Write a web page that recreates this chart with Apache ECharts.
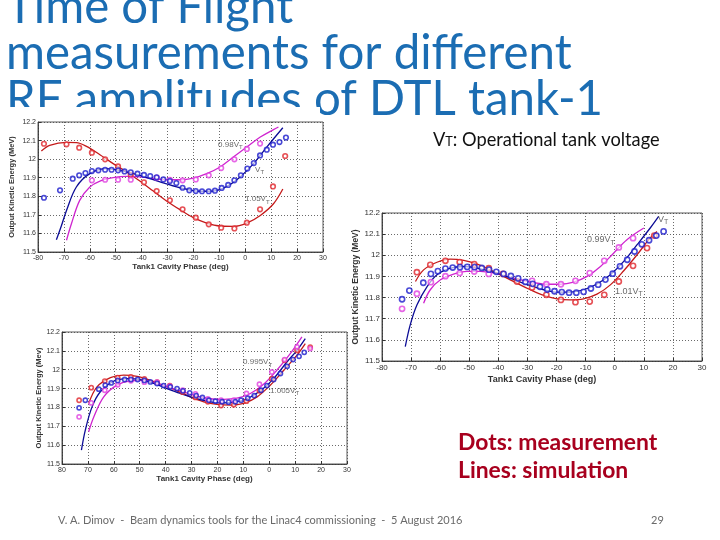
<!DOCTYPE html>
<html><head><meta charset="utf-8">
<script src="https://cdn.jsdelivr.net/npm/echarts@6/dist/echarts.min.js"></script>
<style>html,body{margin:0;padding:0;background:#fff}#c{width:720px;height:540px}</style>
</head><body><div id="c"></div>
<script>
// ---------- text ----------
const titleLines = ['Time of Flight', 'measurements for different', 'RF amplitudes of DTL tank-1'];
const noteText = 'Operational tank voltage';
const legendLines = ['Dots: measurement', 'Lines: simulation'];
const footerText = 'V. A. Dimov  -  Beam dynamics tools for the Linac4 commissioning  -  5 August 2016';
const pageNumber = '29';
const xName = 'Tank1 Cavity Phase (deg)';
const yNames = ['Output Kinetic Energy (MeV)', 'Output Kinetic Energy (MeV)', 'Output Kinetic Energy (Mev)'];

// ---------- chart 1 (top-left): V_T, 0.98 V_T, 1.05 V_T ----------
const c1MeasVT = [[-77.7,11.792],[-71.5,11.832],[-66.6,11.895],[-64.1,11.913],[-61.7,11.925],[-59.2,11.936],[-56.7,11.940],[-54.1,11.943],[-51.6,11.943],[-49.1,11.940],[-46.6,11.934],[-44.2,11.929],[-41.6,11.922],[-39.1,11.915],[-36.7,11.909],[-34.2,11.902],[-31.6,11.891],[-29.1,11.882],[-26.6,11.871],[-24.2,11.846],[-21.6,11.832],[-19.1,11.828],[-16.7,11.827],[-14.1,11.827],[-11.7,11.830],[-9.1,11.845],[-6.6,11.861],[-4.2,11.886],[-1.7,11.913],[0.8,11.949],[3.3,11.979],[5.7,12.020],[8.3,12.051],[10.7,12.078],[13.2,12.092],[15.7,12.116]];
const c1MeasHigh = [[-77.7,12.083],[-69.0,12.080],[-64.1,12.062],[-59.2,12.035],[-54.1,11.999],[-49.1,11.961],[-44.2,11.916],[-39.1,11.875],[-34.2,11.828],[-29.1,11.778],[-24.2,11.730],[-19.1,11.685],[-14.1,11.649],[-9.3,11.631],[-4.2,11.627],[0.6,11.658],[5.7,11.730],[10.7,11.853],[15.4,12.017]];
const c1MeasLow = [[-59.2,11.886],[-54.1,11.889],[-49.1,11.889],[-44.2,11.889],[-34.2,11.900],[-29.1,11.889],[-24.2,11.886],[-19.1,11.891],[-14.1,11.913],[-9.3,11.952],[-4.2,11.999],[0.6,12.055],[5.7,12.084]];
const c1SimVT = [[-72.9,11.566],[-71,11.64],[-69,11.724],[-65.2,11.85],[-60,11.922],[-53.6,11.949],[-48.4,11.94],[-40.7,11.913],[-32.9,11.877],[-25.2,11.846],[-17.5,11.827],[-12.3,11.828],[-7.1,11.853],[-2,11.904],[3.2,11.976],[8.3,12.065],[14.5,12.169]];
const c1SimHigh = [[-78.7,12.044],[-75.5,12.074],[-69,12.09],[-65.2,12.089],[-61.3,12.069],[-56.1,12.024],[-51,11.976],[-45.8,11.931],[-40.7,11.882],[-35.5,11.828],[-30.4,11.775],[-25.2,11.728],[-20,11.685],[-14.9,11.656],[-9.7,11.640],[-4.6,11.638],[0.6,11.656],[5.8,11.697],[10.9,11.760],[14.5,11.839]];
const c1SimLow = [[-69,11.563],[-67.1,11.652],[-63.9,11.778],[-60,11.85],[-56.1,11.882],[-51,11.9],[-45.8,11.907],[-40.7,11.904],[-35.5,11.895],[-30.4,11.889],[-25.2,11.889],[-20,11.898],[-14.9,11.922],[-9.7,11.958],[-4.6,12.011],[0.6,12.065],[5.8,12.119],[10.9,12.159],[12.8,12.173]];
const c1Labels = ['0.98V', 'V', '1.05V'];

// ---------- chart 2 (right): V_T, 0.99 V_T, 1.01 V_T ----------
const c2MeasVT = [[-73.1,11.792],[-70.6,11.833],[-65.8,11.87],[-63.2,11.912],[-60.8,11.925],[-58.2,11.937],[-55.7,11.942],[-53.2,11.944],[-50.7,11.945],[-48.2,11.944],[-45.7,11.940],[-43.2,11.932],[-40.7,11.922],[-38.2,11.912],[-35.7,11.902],[-33.2,11.891],[-30.7,11.874],[-28.2,11.865],[-25.7,11.851],[-23.2,11.838],[-20.7,11.830],[-18.2,11.826],[-15.7,11.823],[-13.2,11.823],[-10.7,11.827],[-8.2,11.843],[-5.7,11.861],[-3.2,11.885],[-0.7,11.913],[1.8,11.948],[4.3,11.979],[6.8,12.018],[9.3,12.052],[11.8,12.071],[14.3,12.093],[16.8,12.113]];
const c2MeasHigh = [[-68,11.92],[-63.4,11.955],[-58.2,11.974],[-53.3,11.968],[-48.3,11.958],[-43.3,11.939],[-38.4,11.912],[-33.6,11.876],[-28.4,11.848],[-23.5,11.813],[-18.5,11.789],[-13.5,11.778],[-8.6,11.781],[-3.6,11.813],[1.4,11.876],[6.3,11.950],[11.1,12.034],[13.6,12.093]];
const c2MeasLow = [[-73.1,11.747],[-68,11.818],[-63.2,11.873],[-58.2,11.901],[-53.3,11.916],[-48.3,11.923],[-43.3,11.912],[-28.4,11.879],[-23.5,11.863],[-18.5,11.863],[-13.5,11.879],[-8.6,11.916],[-3.6,11.974],[1.4,12.037],[6.3,12.081]];
const c2SimVT = [[-72,11.568],[-70.3,11.671],[-68,11.765],[-64.5,11.852],[-61.1,11.908],[-56.5,11.939],[-51.9,11.947],[-47.3,11.939],[-42.8,11.924],[-38.2,11.905],[-33.6,11.879],[-29,11.856],[-24.4,11.837],[-19.8,11.826],[-15.3,11.826],[-10.7,11.837],[-6.1,11.864],[-1.5,11.908],[3.1,11.971],[7.7,12.05],[12.2,12.129],[15.1,12.184]];
const c2SimHigh = [[-68.5,11.876],[-65.7,11.931],[-61.1,11.967],[-56.5,11.982],[-51.9,11.976],[-47.3,11.958],[-42.8,11.931],[-38.2,11.9],[-33.6,11.868],[-29,11.837],[-24.4,11.81],[-19.8,11.794],[-15.3,11.789],[-10.7,11.794],[-6.1,11.816],[-1.5,11.86],[3.1,11.927],[7.7,12.003],[12.2,12.082],[14.5,12.113]];
const c2SimLow = [[-65.7,11.773],[-63.4,11.837],[-59.9,11.884],[-55.4,11.911],[-50.8,11.924],[-46.2,11.924],[-41.6,11.916],[-37,11.9],[-32.4,11.884],[-27.9,11.871],[-23.3,11.863],[-18.7,11.863],[-14.1,11.873],[-9.5,11.9],[-4.9,11.947],[-0.4,12.01],[4.2,12.074],[10,12.129]];
const c2Labels = ['0.99V', 'V', '1.01V'];

// ---------- chart 3 (bottom-left): V_T, 0.995 V_T, 1.005 V_T ----------
const c3MeasVT = [[-73.4,11.798],[-71,11.838],[-65.8,11.897],[-63.3,11.918],[-61,11.93],[-58.5,11.943],[-55.8,11.948],[-53.4,11.948],[-50.8,11.948],[-48.2,11.943],[-45.9,11.935],[-43.3,11.927],[-40.8,11.916],[-38.2,11.909],[-35.6,11.9],[-33.3,11.888],[-30.7,11.877],[-28.2,11.863],[-25.8,11.853],[-23.3,11.838],[-20.8,11.833],[-18.2,11.830],[-15.7,11.828],[-13.1,11.830],[-10.9,11.838],[-8.3,11.849],[-5.8,11.863],[-3.2,11.891],[-0.9,11.916],[1.7,11.948],[4.3,11.98],[6.9,12.018],[9.2,12.054],[11.5,12.071],[13.5,12.092]];
const c3MeasHigh = [[-73.4,11.838],[-68.7,11.905],[-63.5,11.94],[-58.5,11.958],[-53.4,11.962],[-48.2,11.951],[-43.3,11.934],[-38.4,11.916],[-33.4,11.881],[-28.5,11.853],[-23.7,11.830],[-18.6,11.810],[-13.7,11.814],[-8.8,11.833],[-3.8,11.888],[1.0,11.953],[5.9,12.05],[10.7,12.103],[15.8,12.12]];
const c3MeasLow = [[-73.4,11.75],[-68.7,11.824],[-63.5,11.891],[-58.5,11.92],[-53.4,11.941],[-48.2,11.934],[-43.3,11.934],[-38.4,11.913],[-33.4,11.891],[-28.5,11.872],[-23.7,11.845],[-18.6,11.838],[-13.7,11.838],[-8.8,11.874],[-3.8,11.923],[1,11.988],[5.9,12.054],[10.7,12.121],[15.8,12.112]];
const c3SimVT = [[-72.5,11.574],[-71,11.68],[-68.4,11.803],[-65.2,11.883],[-60.1,11.939],[-54.9,11.953],[-49.7,11.948],[-44.6,11.927],[-39.5,11.9],[-34.3,11.874],[-29.2,11.851],[-24,11.833],[-18.9,11.824],[-13.7,11.828],[-8.6,11.846],[-3.4,11.888],[1.7,11.953],[6.8,12.041],[10.7,12.103],[13.9,12.165]];
const c3SimHigh = [[-69.7,11.821],[-66.5,11.909],[-61.3,11.958],[-56.2,11.971],[-51,11.965],[-45.9,11.944],[-40.8,11.916],[-35.6,11.888],[-30.5,11.856],[-25.3,11.830],[-20.2,11.816],[-15,11.812],[-9.9,11.821],[-4.7,11.856],[0.4,11.918],[5.6,11.997],[10.7,12.077],[13.9,12.138]];
const c3SimLow = [[-69.7,11.671],[-67.7,11.75],[-63.9,11.856],[-58.8,11.918],[-53.6,11.941],[-48.5,11.944],[-43.3,11.927],[-38.2,11.904],[-33.1,11.883],[-27.9,11.86],[-22.8,11.846],[-17.6,11.843],[-12.5,11.849],[-7.3,11.874],[-2.2,11.923],[2.9,11.997],[8.1,12.085],[12.6,12.174]];
const c3Labels = ['0.995V', '1.005V'];

// ---------- build ----------
const COL = {
  dotBlue: '#1c1ccc', lineBlue: '#0c0c96',
  dotRed: '#e0262c', lineRed: '#c41a1a',
  dotMag: '#e040e0', lineMag: '#cf25cf'
};
const chart = echarts.init(document.getElementById('c'), null, {renderer: 'canvas'});

function fit(text, weight, family, target) {
  const ctx = document.createElement('canvas').getContext('2d');
  ctx.font = weight + ' 100px ' + family;
  return 100 * target / ctx.measureText(text).width;
}
const titleFont = 'Lato';
const titleSize = fit(titleLines[2], 'normal', titleFont, 597);
const noteSize = fit('VT: ' + noteText, 'normal', 'Lato', 229);
const legendSize = fit(legendLines[0], 'bold', 'Lato', 199);

const grids = [
  {left: 38, top: 122, width: 285, height: 130},
  {left: 382, top: 213, width: 320, height: 148},
  {left: 62, top: 332, width: 285, height: 132}
];
const tickFont = [7, 8, 7];
const nameFont = [8, 9, 8];
const xGap = [11, 14, 10];
const yGap = [22, 21, 19];

const xAxis = grids.map((g, i) => ({
  gridIndex: i, type: 'value', min: -80, max: 30, interval: 10,
  axisLine: {show: true, onZero: false, lineStyle: {color: '#333', width: 0.8}},
  axisTick: {show: true, inside: true, length: 3, lineStyle: {color: '#333'}},
  axisLabel: {fontSize: tickFont[i], color: '#333', margin: 3, fontFamily: 'Liberation Sans',
    formatter: i === 2 ? (v => String(Math.abs(v))) : (v => String(v))},
  splitLine: {show: true, lineStyle: {type: [1, 2], color: '#444', width: 0.8}},
  name: xName, nameLocation: 'middle', nameGap: xGap[i],
  nameTextStyle: {fontSize: nameFont[i], color: '#333', fontWeight: 'bold', fontFamily: 'Liberation Sans'}
}));
const yAxis = grids.map((g, i) => ({
  gridIndex: i, type: 'value', min: 11.5, max: 12.2, interval: 0.1,
  axisLine: {show: true, onZero: false, lineStyle: {color: '#333', width: 0.8}},
  axisTick: {show: true, inside: true, length: 3, lineStyle: {color: '#333'}},
  axisLabel: {fontSize: tickFont[i], color: '#333', margin: 2, fontFamily: 'Liberation Sans',
    formatter: v => String(Math.round(v * 10) / 10)},
  splitLine: {show: true, lineStyle: {type: [1, 2], color: '#444', width: 0.8}},
  name: yNames[i], nameLocation: 'middle', nameGap: yGap[i], nameRotate: 90,
  nameTextStyle: {fontSize: nameFont[i] - 0.5, color: '#333', fontWeight: 'bold', fontFamily: 'Liberation Sans'}
}));

const series = [];
function sim(idx, data, color) {
  series.push({type: 'line', xAxisIndex: idx, yAxisIndex: idx, data: data, smooth: 0.35,
    showSymbol: false, silent: true, z: 2, lineStyle: {color: color, width: 1.3}});
}
function meas(idx, data, color, size) {
  series.push({type: 'scatter', xAxisIndex: idx, yAxisIndex: idx, data: data, symbol: 'circle',
    symbolSize: size, silent: true, z: 3,
    itemStyle: {color: 'rgba(255,255,255,0.8)', borderColor: color, borderWidth: 1.6}});
}
function note(idx, text, x, y, fs) {
  series.push({type: 'scatter', xAxisIndex: idx, yAxisIndex: idx, data: [[x, y]], symbolSize: 0, silent: true, z: 4,
    label: {show: true, position: 'right', distance: 0, formatter: text + '{s|T}',
      fontSize: fs, color: '#444', fontFamily: 'Liberation Sans',
      rich: {s: {fontSize: fs - 2, color: '#444', padding: [fs * 0.7, 0, 0, 0], fontFamily: 'Liberation Sans'}}}});
}

sim(0, c1SimHigh, COL.lineRed); sim(0, c1SimLow, COL.lineMag); sim(0, c1SimVT, COL.lineBlue);
meas(0, c1MeasHigh, COL.dotRed, 4.6); meas(0, c1MeasLow, COL.dotMag, 4.6); meas(0, c1MeasVT, COL.dotBlue, 4.6);
note(0, c1Labels[0], -10.5, 12.076, 8); note(0, c1Labels[1], 3.8, 11.945, 8); note(0, c1Labels[2], -0.1, 11.785, 8);

sim(1, c2SimHigh, COL.lineRed); sim(1, c2SimLow, COL.lineMag); sim(1, c2SimVT, COL.lineBlue);
meas(1, c2MeasHigh, COL.dotRed, 5.2); meas(1, c2MeasLow, COL.dotMag, 5.2); meas(1, c2MeasVT, COL.dotBlue, 5.2);
note(1, c2Labels[0], -9.5, 12.075, 9); note(1, c2Labels[1], 14.9, 12.17, 9); note(1, c2Labels[2], 0.1, 11.83, 9);

sim(2, c3SimHigh, COL.lineRed); sim(2, c3SimLow, COL.lineMag); sim(2, c3SimVT, COL.lineBlue);
meas(2, c3MeasHigh, COL.dotRed, 4.2); meas(2, c3MeasLow, COL.dotMag, 4.2); meas(2, c3MeasVT, COL.dotBlue, 4.2);
note(2, c3Labels[0], -10.1, 12.04, 8); note(2, c3Labels[1], 0.3, 11.89, 8);

const graphic = [];
titleLines.forEach((t, i) => {
  graphic.push({type: 'text', z: -5, x: 6, y: [31, 77, 123][i], silent: true,
    style: {text: t, fill: '#1b6db3', font: titleSize.toFixed(1) + 'px ' + titleFont, verticalAlign: 'bottom'}});
});
// first chart picture covers the lower part of the title
graphic.push({type: 'rect', z: -4, silent: true, shape: {x: 0, y: 107, width: 320, height: 165}, style: {fill: '#fff'}});
graphic.push({type: 'text', z: 5, x: 433, y: 140, silent: true,
  style: {rich: {a: {fontSize: noteSize, fontFamily: 'Lato', fill: '#111'}, s: {fontSize: noteSize * 0.7, fontFamily: 'Lato', fill: '#111', padding: [4, 0, 0, 0]}},
    text: '{a|V}{s|T}{a|: ' + noteText + '}', verticalAlign: 'middle'}});
legendLines.forEach((t, i) => {
  graphic.push({type: 'text', z: 5, x: 458, y: [443, 471][i], silent: true,
    style: {text: t, fill: '#a8001e', font: 'bold ' + legendSize.toFixed(1) + 'px Lato', verticalAlign: 'middle'}});
});
graphic.push({type: 'text', z: 5, x: 58, y: 520, silent: true,
  style: {text: footerText, fill: '#6a6a6a', font: '11px Lato', verticalAlign: 'middle'}});
graphic.push({type: 'text', z: 5, x: 651, y: 520, silent: true,
  style: {text: pageNumber, fill: '#6a6a6a', font: '11px Lato', verticalAlign: 'middle'}});

chart.setOption({
  animation: false,
  backgroundColor: '#fff',
  grid: grids.map(g => Object.assign({show: true, borderColor: '#333', borderWidth: 0.8, backgroundColor: 'transparent', containLabel: false}, g)),
  xAxis: xAxis, yAxis: yAxis, series: series, graphic: graphic
});
</script></body></html>
